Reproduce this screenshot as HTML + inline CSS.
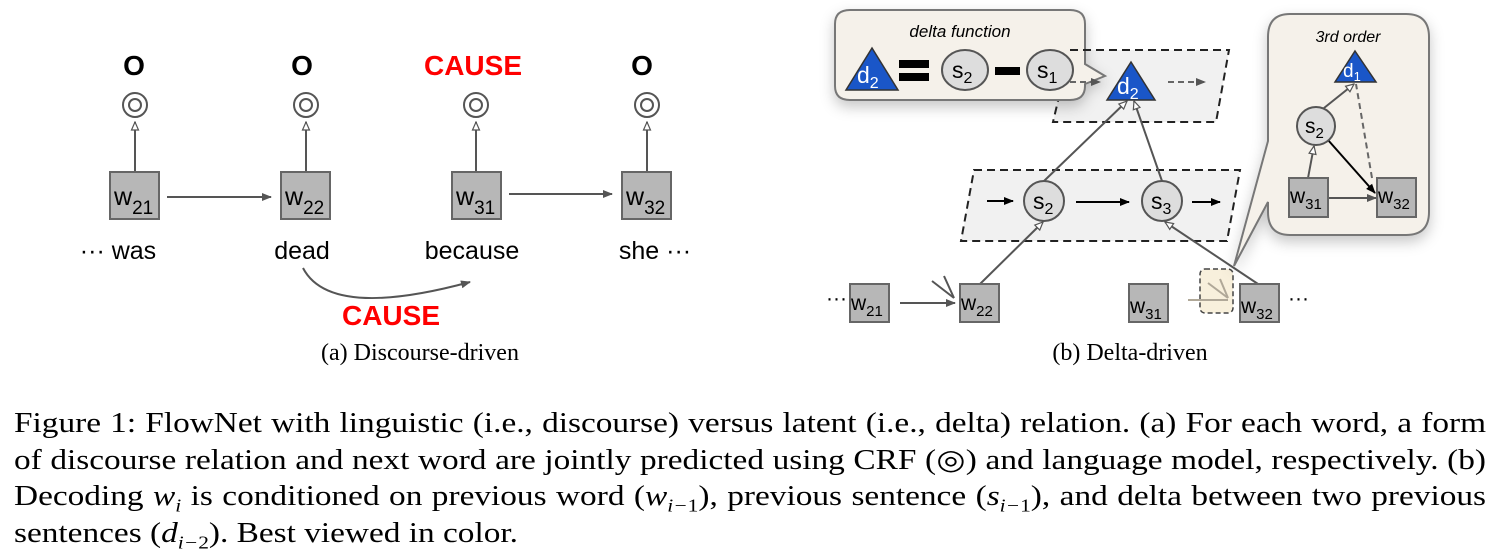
<!DOCTYPE html>
<html><head><meta charset="utf-8"><style>
html,body{margin:0;padding:0;background:#fff;}
body{width:1498px;height:560px;position:relative;overflow:hidden;}
svg{position:absolute;left:0;top:0;}
.cap{position:absolute;left:14px;width:1237px;font-family:"Liberation Serif",serif;font-size:28px;color:#000;line-height:36.5px;top:406px;transform:scaleX(1.19);transform-origin:0 0;}
.cap div{text-align:justify;text-align-last:justify;white-space:nowrap;}
.cap div.last{text-align-last:left;}
i{font-style:italic;}
sub{font-size:18px;line-height:0;}
.nw{white-space:nowrap;}
</style></head><body>
<svg width="1498" height="400" viewBox="0 0 1498 400" font-family="Liberation Sans, sans-serif">
<defs>
<marker id="ah" markerWidth="10" markerHeight="10" refX="9" refY="5" orient="auto" markerUnits="userSpaceOnUse"><path d="M0,1 L10,5 L0,9 z" fill="#555"/></marker>
<marker id="ahb" markerWidth="10" markerHeight="10" refX="9" refY="5" orient="auto" markerUnits="userSpaceOnUse"><path d="M0,1 L10,5 L0,9 z" fill="#000"/></marker>
<marker id="oa" markerWidth="10" markerHeight="10" refX="9" refY="5" orient="auto" markerUnits="userSpaceOnUse"><path d="M1,1.5 L9,5 L1,8.5 z" fill="#fff" stroke="#555" stroke-width="1.2"/></marker>
<filter id="sh" x="-20%" y="-20%" width="140%" height="160%"><feDropShadow dx="0" dy="6" stdDeviation="7" flood-color="#000" flood-opacity="0.22"/></filter>
</defs>
<g font-weight="bold" font-size="28" text-anchor="middle">
<text x="134" y="75">O</text><text x="302" y="75">O</text>
<text x="473" y="75" fill="#f00">CAUSE</text><text x="642" y="75">O</text>
<text x="391" y="325" fill="#f00">CAUSE</text>
</g>
<g fill="none" stroke="#555" stroke-width="2">
<circle cx="135" cy="105" r="12"/><circle cx="135" cy="105" r="6"/>
<circle cx="306" cy="105" r="12"/><circle cx="306" cy="105" r="6"/>
<circle cx="476" cy="105" r="12"/><circle cx="476" cy="105" r="6"/>
<circle cx="647" cy="105" r="12"/><circle cx="647" cy="105" r="6"/>
<line x1="135" y1="172" x2="135" y2="122" marker-end="url(#oa)"/>
<line x1="306" y1="172" x2="306" y2="122" marker-end="url(#oa)"/>
<line x1="476" y1="172" x2="476" y2="122" marker-end="url(#oa)"/>
<line x1="647" y1="172" x2="647" y2="122" marker-end="url(#oa)"/>
<line x1="167" y1="197" x2="271" y2="197" marker-end="url(#ah)"/>
<line x1="509" y1="194" x2="612" y2="194" marker-end="url(#ah)"/>
<path d="M303,268 Q330,320 470,282" marker-end="url(#ah)"/>
</g>
<g fill="#b7b7b7" stroke="#666" stroke-width="2">
<rect x="110" y="172" width="49" height="47"/><rect x="281" y="172" width="49" height="47"/>
<rect x="452" y="172" width="49" height="47"/><rect x="622" y="172" width="49" height="47"/>
</g>
<g font-size="25">
<text x="114" y="205">w<tspan font-size="19" dy="9">21</tspan></text>
<text x="285" y="205">w<tspan font-size="19" dy="9">22</tspan></text>
<text x="456" y="205">w<tspan font-size="19" dy="9">31</tspan></text>
<text x="626" y="205">w<tspan font-size="19" dy="9">32</tspan></text>
</g>
<g font-size="25" text-anchor="middle">
<text x="118" y="259">··· was</text><text x="302" y="259">dead</text>
<text x="472" y="259">because</text><text x="655" y="259">she ···</text>
</g>
<text x="420" y="360" font-family="Liberation Serif, serif" font-size="24" text-anchor="middle">(a) Discourse-driven</text>
<text x="1130" y="360" font-family="Liberation Serif, serif" font-size="24" text-anchor="middle">(b) Delta-driven</text>

<polygon points="1070,50 1229,50 1216,122 1053,122" fill="#f1f1f1" stroke="#222" stroke-width="2" stroke-dasharray="8,5"/>
<polygon points="974,170 1240,170 1227,241 961,241" fill="#f1f1f1" stroke="#222" stroke-width="2" stroke-dasharray="8,5"/>
<g filter="url(#sh)">
<path d="M850,10 H1070 Q1085,10 1085,24 V64 L1105,76 L1085,84 V86 Q1085,100 1070,100 H850 Q835,100 835,86 V24 Q835,10 850,10 z" fill="#f5f1ea" stroke="#777" stroke-width="2"/>
</g>
<text x="960" y="37" font-size="17" font-style="italic" text-anchor="middle">delta function</text>
<polygon points="872,48 898,90 846,90" fill="#1a56c8" stroke="#333" stroke-width="1.5"/>
<text x="857" y="83" font-size="23" fill="#fff">d<tspan font-size="16" dy="5">2</tspan></text>
<rect x="899" y="60" width="30" height="8" fill="#000"/><rect x="899" y="73" width="30" height="8" fill="#000"/>
<ellipse cx="965" cy="70" rx="23" ry="20" fill="#ddd" stroke="#555" stroke-width="2"/>
<text x="952" y="78" font-size="23">s<tspan font-size="16" dy="5">2</tspan></text>
<rect x="995" y="67" width="25" height="8" fill="#000"/>
<ellipse cx="1050" cy="70" rx="23" ry="20" fill="#ddd" stroke="#555" stroke-width="2"/>
<text x="1037" y="78" font-size="23">s<tspan font-size="16" dy="5">1</tspan></text>
<line x1="1070" y1="82" x2="1100" y2="82" stroke="#666" stroke-width="2" stroke-dasharray="6,4" marker-end="url(#ah)"/>
<line x1="1070" y1="50" x2="1100" y2="50" stroke="#222" stroke-width="2" stroke-dasharray="8,5"/>
<polygon points="1131,62 1155,100 1107,100" fill="#1a56c8" stroke="#333" stroke-width="1.5"/>
<text x="1117" y="94" font-size="23" fill="#fff">d<tspan font-size="16" dy="5">2</tspan></text>
<line x1="1168" y1="82" x2="1205" y2="82" stroke="#666" stroke-width="2" stroke-dasharray="6,4" marker-end="url(#ah)"/>
<g stroke="#555" stroke-width="2" fill="none">
<line x1="1044" y1="181" x2="1127" y2="101" marker-end="url(#oa)"/>
<line x1="1162" y1="181" x2="1134" y2="101" marker-end="url(#oa)"/>
<line x1="980" y1="284" x2="1043" y2="222" marker-end="url(#oa)"/>
<line x1="1258" y1="284" x2="1165" y2="222" marker-end="url(#oa)"/>
</g>
<g stroke="#000" stroke-width="2">
<line x1="987" y1="201" x2="1013" y2="201" marker-end="url(#ahb)"/>
<line x1="1076" y1="202" x2="1129" y2="202" marker-end="url(#ahb)"/>
<line x1="1192" y1="202" x2="1220" y2="202" marker-end="url(#ahb)"/>
</g>
<ellipse cx="1044" cy="201" rx="20" ry="20" fill="#ddd" stroke="#555" stroke-width="2"/>
<text x="1033" y="209" font-size="23">s<tspan font-size="16" dy="5">2</tspan></text>
<ellipse cx="1162" cy="201" rx="20" ry="20" fill="#ddd" stroke="#555" stroke-width="2"/>
<text x="1151" y="209" font-size="23">s<tspan font-size="16" dy="5">3</tspan></text>
<rect x="1200" y="269" width="33" height="44" rx="5" fill="#f8f0dc" stroke="#444" stroke-width="1.5" stroke-dasharray="5,3"/>
<g stroke="#b0a898" stroke-width="2"><line x1="1188" y1="300" x2="1228" y2="300"/><line x1="1208" y1="283" x2="1228" y2="298"/><line x1="1220" y1="279" x2="1228" y2="298"/></g>
<g stroke="#555" stroke-width="2"><line x1="900" y1="303" x2="955" y2="303" marker-end="url(#ah)"/><line x1="932" y1="281" x2="954" y2="298"/><line x1="944" y1="276" x2="954" y2="298"/></g>
<g fill="#b7b7b7" stroke="#666" stroke-width="2">
<rect x="850" y="284" width="39" height="38"/><rect x="960" y="284" width="39" height="38"/>
<rect x="1129" y="284" width="39" height="38"/><rect x="1240" y="284" width="39" height="38"/>
</g>
<g font-size="21">
<text x="851" y="310">w<tspan font-size="15" dy="6">21</tspan></text>
<text x="961" y="310">w<tspan font-size="15" dy="6">22</tspan></text>
<text x="1130" y="313">w<tspan font-size="15" dy="6">31</tspan></text>
<text x="1241" y="313">w<tspan font-size="15" dy="6">32</tspan></text>
<text x="826" y="305">···</text><text x="1288" y="305">···</text>
</g>
<g filter="url(#sh)">
<path d="M1290,14 H1406 Q1429,14 1429,37 V212 Q1429,235 1406,235 H1290 Q1268,235 1268,212 V202 L1234,266 L1268,141 V37 Q1268,14 1290,14 z" fill="#f5f1ea" stroke="#777" stroke-width="2"/>
</g>
<text x="1348" y="42" font-size="16" font-style="italic" text-anchor="middle">3rd order</text>
<g stroke-width="2" fill="none">
<line x1="1324" y1="108" x2="1354" y2="84" stroke="#555" marker-end="url(#oa)"/>
<line x1="1308" y1="178" x2="1314" y2="146" stroke="#555" marker-end="url(#oa)"/>
<line x1="1328" y1="198" x2="1376" y2="198" stroke="#555" marker-end="url(#ah)"/>
<line x1="1328" y1="140" x2="1375" y2="193" stroke="#000" marker-end="url(#ahb)"/>
<line x1="1372" y1="178" x2="1356" y2="84" stroke="#666" stroke-dasharray="6,4"/>
</g>
<polygon points="1355,51 1376,82 1335,82" fill="#1a56c8" stroke="#333" stroke-width="1.5"/>
<text x="1343" y="77" font-size="19" fill="#fff">d<tspan font-size="13" dy="4">1</tspan></text>
<ellipse cx="1316" cy="126" rx="19" ry="19" fill="#ddd" stroke="#555" stroke-width="2"/>
<text x="1305" y="133" font-size="21">s<tspan font-size="15" dy="5">2</tspan></text>
<g fill="#b7b7b7" stroke="#666" stroke-width="2">
<rect x="1289" y="178" width="39" height="39"/><rect x="1377" y="178" width="39" height="39"/>
</g>
<g font-size="21">
<text x="1290" y="203">w<tspan font-size="15" dy="6">31</tspan></text>
<text x="1378" y="203">w<tspan font-size="15" dy="6">32</tspan></text>
</g>
</svg>
<div class="cap">
<div>Figure 1: FlowNet with linguistic (i.e., discourse) versus latent (i.e., delta) relation. (a) For each word, a form</div>
<div>of discourse relation and next word are jointly predicted using CRF <span class="nw">(&#9678;)</span> and language model, respectively. (b)</div>
<div>Decoding <i>w<sub>i</sub></i> is conditioned on previous word <span class="nw">(<i>w<sub>i&minus;</sub></i><sub>1</sub>),</span> previous sentence <span class="nw">(<i>s<sub>i&minus;</sub></i><sub>1</sub>),</span> and delta between two previous</div>
<div class="last">sentences <span class="nw">(<i>d<sub>i&minus;</sub></i><sub>2</sub>).</span> Best viewed in color.</div>
</div>
</body></html>
